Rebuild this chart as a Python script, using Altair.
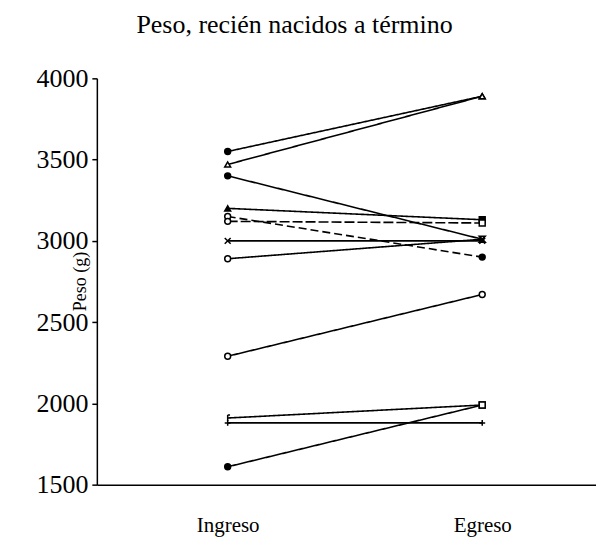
import altair as alt
import pandas as pd

series = ["A", "B", "C", "D", "E", "F", "G", "H", "I", "J", "K", "L"]
ingreso = [3550, 3470, 3400, 3200, 3150, 3120, 3000, 2890, 2290, 1910, 1880, 1610]
egreso = [3890, 3890, 3010, 3130, 2900, 3110, 3000, 3010, 2670, 1990, 1880, 1990]
stage_labels = ["Ingreso", "Egreso"]

rows = []
for s, a, b in zip(series, ingreso, egreso):
    rows.append({"series": s, "stage": 1, "peso": a})
    rows.append({"series": s, "stage": 2, "peso": b})
df = pd.DataFrame(rows)

XP = "M-1,-1L1,1M-1,1L1,-1"
PLUS = "M-1,0L1,0M0,-1L0,1"
HOUR = "M-1,-1L1,-1L-1,1L1,1Z"
TICK = "M0,-1L0,1M0,-1L0.8,-1"

shapes_in = ["circle", "triangle-up", "circle", "triangle-up", "circle", "circle",
             XP, "circle", "circle", TICK, PLUS, "circle"]
fills_in = ["black", "white", "black", "black", "white", "white",
            "white", "white", "white", "white", "white", "black"]
shapes_out = ["triangle-up", "triangle-up", HOUR, "square", "circle", "square",
              XP, XP, "circle", "square", PLUS, "square"]
fills_out = ["white", "white", "white", "black", "black", "white",
             "white", "white", "white", "white", "white", "white"]
dashes = [[1, 0], [1, 0], [1, 0], [1, 0], [8, 4], [10, 3],
          [1, 0], [1, 0], [1, 0], [1, 0], [1, 0], [1, 0]]

FONT = "Liberation Serif"

x_enc = alt.X("stage:Q", scale=alt.Scale(domain=[0.486, 2.447], nice=False, zero=False),
              axis=alt.Axis(values=[1, 2], title=None, ticks=False, tickSize=0, grid=False,
                            labelExpr="datum.value == 1 ? 'Ingreso' : 'Egreso'",
                            labelPadding=30, labelFontSize=21, labelFont=FONT,
                            labelColor="black", domainColor="black", domainWidth=1.5))
y_enc = alt.Y("peso:Q", scale=alt.Scale(domain=[1500, 4000], nice=False, zero=False),
              axis=alt.Axis(values=[1500, 2000, 2500, 3000, 3500, 4000], grid=False, format="d",
                            tickSize=5, labelPadding=4, labelFontSize=26, labelFont=FONT,
                            labelColor="black", domainColor="black", domainWidth=1.5,
                            tickColor="black", tickWidth=1.5,
                            title="Peso (g)", titleFont=FONT, titleFontSize=18,
                            titleColor="black",
                            titleFontWeight="normal", titleAngle=270, titleX=-11, titleY=203,
                            titleAlign="center", titleBaseline="alphabetic"))

base = alt.Chart(df)

lines = base.mark_line(color="black", strokeWidth=1.6).encode(
    x=x_enc, y=y_enc,
    detail="series:N",
    strokeDash=alt.StrokeDash("series:N", scale=alt.Scale(domain=series, range=dashes), legend=None),
)

pts_in = base.transform_filter("datum.stage == 1").mark_point(
    filled=True, stroke="black", strokeWidth=1.5, size=35, opacity=1).encode(
    x=x_enc, y=y_enc,
    shape=alt.Shape("series:N", scale=alt.Scale(domain=series, range=shapes_in), legend=None),
    fill=alt.Fill("series:N", scale=alt.Scale(domain=series, range=fills_in), legend=None),
)

pts_out = base.transform_filter("datum.stage == 2").mark_point(
    filled=True, stroke="black", strokeWidth=1.5, size=35, opacity=1).encode(
    x=x_enc, y=y_enc,
    shape=alt.Shape("series:N", scale=alt.Scale(domain=series, range=shapes_out), legend=None),
    fill=alt.Fill("series:N", scale=alt.Scale(domain=series, range=fills_out), legend=None),
)

chart = alt.layer(lines, pts_in, pts_out).resolve_scale(
    shape="independent", fill="independent", strokeDash="independent"
).properties(
    width=500, height=407,
    background="white",
    autosize=alt.AutoSizeParams(type="none"),
    padding={"left": 89, "top": 70, "right": 0, "bottom": 62},
    title=alt.TitleParams("Peso, recién nacidos a término", font=FONT, fontSize=26,
                          fontWeight="normal", color="black", anchor="middle",
                          frame="group", dx=-52, offset=6, baseline="alphabetic"),
).configure_view(stroke=None)

chart.save("out.html", embed_options={"renderer": "svg", "actions": False})
